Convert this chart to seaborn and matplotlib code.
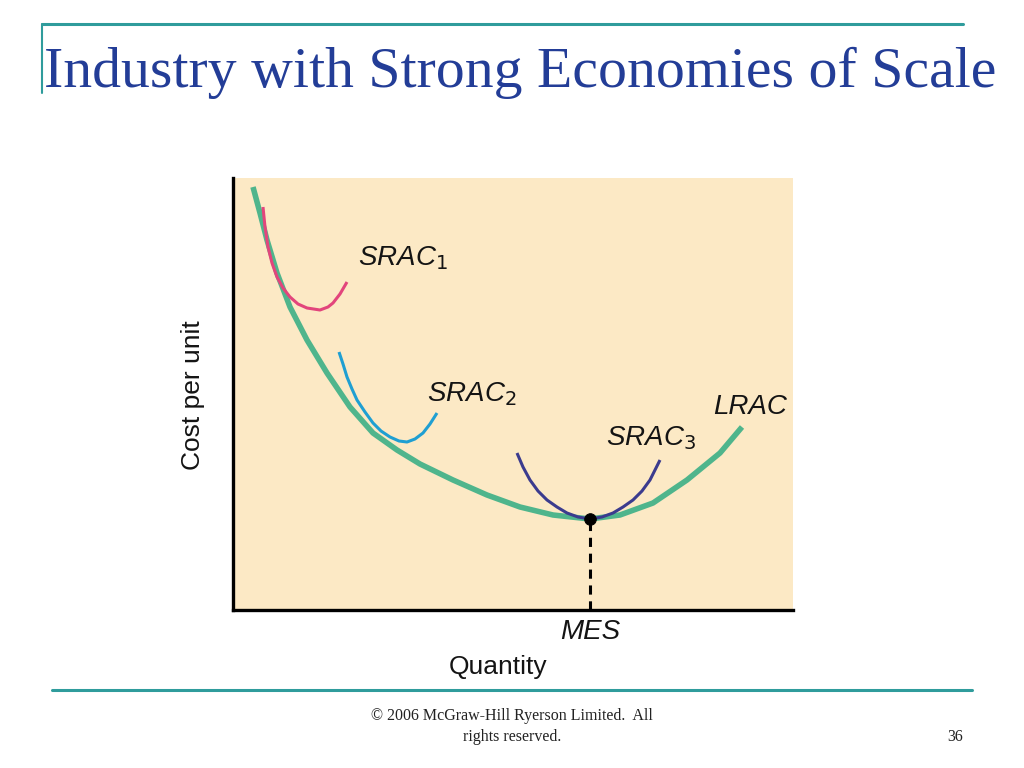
import numpy as np
import pandas as pd
import matplotlib
matplotlib.use("Agg")
import matplotlib.pyplot as plt
import seaborn as sns

# curve points (quantity, cost per unit)
lrac_q = [20, 27, 34, 44, 57, 74, 94, 117, 140, 164, 187, 220, 254, 287, 320, 357,
          387, 420, 454, 487, 509]
lrac_c = [423, 397, 370, 337, 303, 270, 237, 203, 177, 160, 146, 130, 115, 103, 95, 91,
          95, 107, 130, 157, 183]

srac1_q = [30, 32, 35, 39, 44, 50, 57, 65, 74, 87, 95, 100, 107, 114]
srac1_c = [403, 383, 363, 347, 333, 322, 313, 306, 302, 300, 303, 307, 316, 328]

srac2_q = [106, 110, 114, 119, 124, 132, 140, 148, 157, 166, 174, 182, 190, 197, 204]
srac2_c = [258, 246, 233, 221, 210, 198, 187, 179, 173, 169, 168, 171, 177, 186, 197]

srac3_q = [284, 290, 297, 305, 314, 324, 334, 345, 357, 369, 380, 390, 400, 409, 417, 422, 427]
srac3_c = [157, 143, 130, 119, 110, 103, 97, 93, 91, 93, 97, 103, 110, 119, 130, 140, 150]

mes_q = [357]
mes_c = [91]

curves = {
    "LRAC": (lrac_q, lrac_c, "#4fb58c", 4.0),
    "SRAC1": (srac1_q, srac1_c, "#e2457c", 2.2),
    "SRAC2": (srac2_q, srac2_c, "#1f9fd2", 2.2),
    "SRAC3": (srac3_q, srac3_c, "#3b3b8e", 2.2),
}

sns.set_theme(style="white")
plt.rcParams["font.family"] = ["Liberation Sans", "DejaVu Sans"]

fig = plt.figure(figsize=(10.24, 7.68), dpi=100)
ax = fig.add_axes([233 / 1024, 1 - 610 / 768, 560 / 1024, 432 / 768])
ax.set_facecolor("#fce9c5")

for name, (q, c, col, lw) in curves.items():
    df = pd.DataFrame({"q": q, "c": c})
    sns.lineplot(data=df, x="q", y="c", sort=False, color=col, lw=lw, ax=ax,
                 solid_capstyle="butt", solid_joinstyle="round")

# MES point and dashed drop line
ax.plot([mes_q[0], mes_q[0]], [0, mes_c[0]], color="black", lw=2.2,
        ls=(0, (3, 2.2)))
sns.scatterplot(x=mes_q, y=mes_c, color="black", s=70, zorder=5, ax=ax,
                edgecolor="black")

ax.set_xlim(0, 560)
ax.set_ylim(0, 432)
ax.set_xticks([])
ax.set_yticks([])
ax.set_xlabel("")
ax.set_ylabel("")
for s in ["top", "right"]:
    ax.spines[s].set_visible(False)
for s in ["left", "bottom"]:
    ax.spines[s].set_color("black")
    ax.spines[s].set_linewidth(2.4)

lab = dict(fontsize=20, style="italic", color="#141414", va="center")
ax.text(125, 352, r"SRAC$_1$", **lab)
ax.text(194, 216, r"SRAC$_2$", **lab)
ax.text(373, 172, r"SRAC$_3$", **lab)
ax.text(480, 203, "LRAC", **lab)
ax.text(mes_q[0], -22, "MES", ha="center", va="center", fontsize=20,
        style="italic", color="#141414")

fig.text(498 / 1024, 1 - 667 / 768, "Quantity", ha="center", va="center",
         fontsize=19, color="#141414")
fig.text(193 / 1024, 1 - 395 / 768, "Cost per unit", ha="center", va="center",
         fontsize=19, rotation=90, color="#141414")

# slide decorations
teal = "#2f9c9c"
fig.add_artist(plt.Line2D([42 / 1024, 963 / 1024], [1 - 24 / 768] * 2,
                          color=teal, lw=2.2))
fig.add_artist(plt.Line2D([42 / 1024] * 2, [1 - 24 / 768, 1 - 93 / 768],
                          color=teal, lw=1.5))
fig.add_artist(plt.Line2D([52 / 1024, 972 / 1024], [1 - 690 / 768] * 2,
                          color=teal, lw=2.2))

fig.text(520 / 1024, 1 - 73 / 768, "Industry with Strong Economies of Scale",
         ha="center", va="center", fontsize=41.6, color="#233d97",
         family=["Liberation Serif", "DejaVu Serif"])
fig.text(512 / 1024, 1 - 716 / 768, "© 2006 McGraw-Hill Ryerson Limited.  All",
         ha="center", va="center", fontsize=11.5, color="#222222",
         family=["Liberation Serif", "DejaVu Serif"])
fig.text(512 / 1024, 1 - 737 / 768, "rights reserved.",
         ha="center", va="center", fontsize=11.5, color="#222222",
         family=["Liberation Serif", "DejaVu Serif"])
fig.text(955 / 1024, 1 - 737 / 768, "36", ha="center", va="center",
         fontsize=11.5, color="#222222",
         family=["Liberation Serif", "DejaVu Serif"])

fig.savefig("out.png", dpi=100, facecolor="white")
